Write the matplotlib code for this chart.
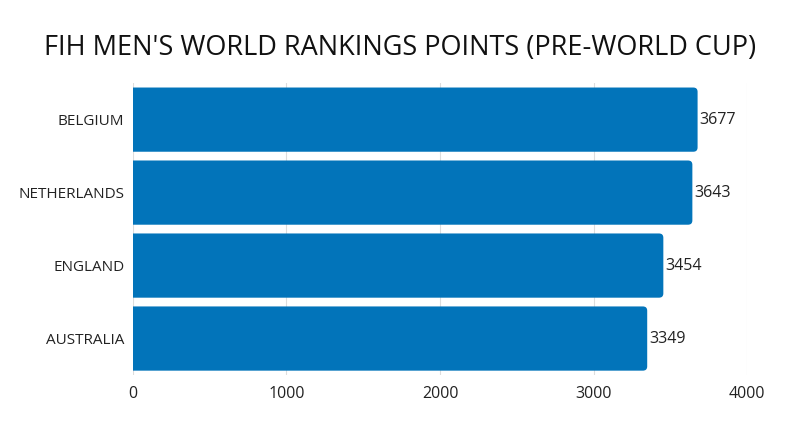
import matplotlib.pyplot as plt
import matplotlib.patches as patches
from matplotlib.path import Path

plt.rcParams['font.family'] = ['Open Sans', 'DejaVu Sans']

# Data
countries = ['BELGIUM', 'NETHERLANDS', 'ENGLAND', 'AUSTRALIA']
points = [3677, 3643, 3454, 3349]
x_ticks = [0, 1000, 2000, 3000, 4000]

bar_color = '#0274BA'

fig = plt.figure(figsize=(8, 4.47), dpi=100)
ax = fig.add_axes([0.166, 0.161, 0.768, 0.653])

ypos = list(range(len(countries)))[::-1]
bars = ax.barh(ypos, points, height=0.88, color='none', zorder=2)

ax.set_xlim(0, 4000)
ax.set_ylim(-0.5, 3.5)

# bars with rounded right corners (~4px radius)
r_x = 28
r_y = 0.058
for b in bars:
    x0, y0 = b.get_x(), b.get_y()
    w, h = b.get_width(), b.get_height()
    x1, y1 = x0 + w, y0 + h
    verts = [(x0, y0), (x1 - r_x, y0), (x1, y0), (x1, y0 + r_y),
             (x1, y1 - r_y), (x1, y1), (x1 - r_x, y1), (x0, y1), (x0, y0)]
    codes = [Path.MOVETO, Path.LINETO, Path.CURVE3, Path.CURVE3,
             Path.LINETO, Path.CURVE3, Path.CURVE3, Path.LINETO, Path.CLOSEPOLY]
    ax.add_patch(patches.PathPatch(Path(verts, codes), facecolor=bar_color,
                                   edgecolor='none', zorder=2))
    ax.text(x1 + 14, y0 + h / 2, f'{w:.0f}', ha='left', va='center',
            fontsize=11.5, color='#222222', zorder=3)

ax.set_yticks(ypos)
ax.set_yticklabels(countries, fontsize=11, color='#222222')
ax.set_xticks(x_ticks)
ax.set_xticklabels([str(t) for t in x_ticks], fontsize=11.5, color='#222222')
ax.tick_params(axis='x', length=0, pad=8)
ax.tick_params(axis='y', length=0, pad=6)
ax.grid(axis='x', color='#dddddd', linewidth=0.8, zorder=0)
ax.set_axisbelow(True)
for s in ax.spines.values():
    s.set_visible(False)

fig.text(0.5, 0.892, "FIH MEN'S WORLD RANKINGS POINTS (PRE-WORLD CUP)",
         ha='center', va='center', fontsize=19.5, color='#111111')

fig.savefig('out.png', dpi=100)
